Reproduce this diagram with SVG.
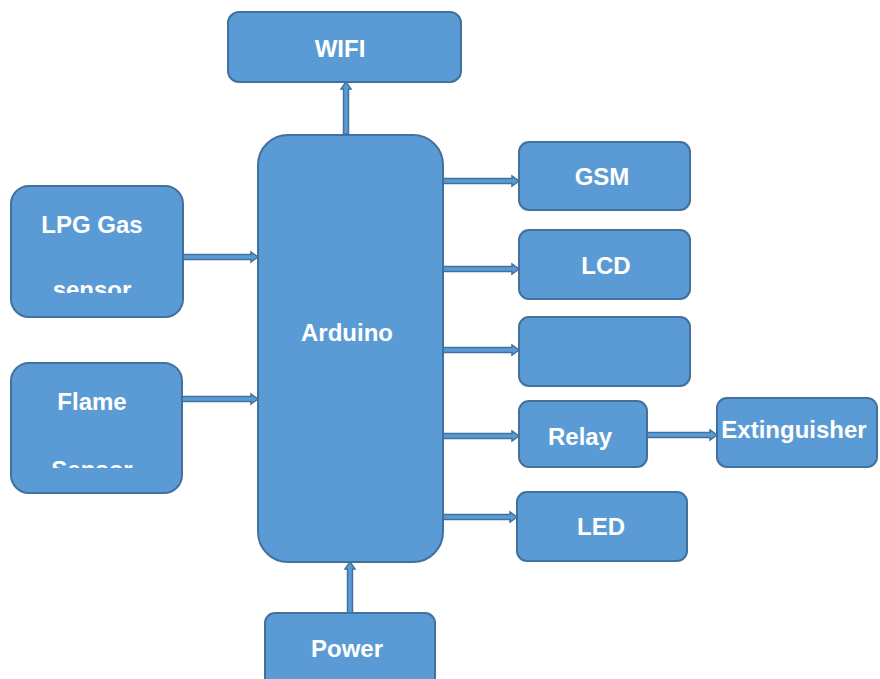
<svg xmlns="http://www.w3.org/2000/svg" width="880" height="679" viewBox="0 0 880 679">
<style>
.box{fill:#5B9BD5;stroke:#41719C;stroke-width:2}
.arr{fill:#5B9BD5;stroke:#41719C;stroke-width:1.5;stroke-linejoin:miter}
.t{font-family:"Liberation Sans",Arial,sans-serif;font-weight:bold;font-size:24px;fill:#FFFFFF;text-anchor:middle}
</style>
<defs>
<clipPath id="clipLpg"><rect x="0" y="0" width="880" height="293"/></clipPath>
<clipPath id="clipFlame"><rect x="0" y="0" width="880" height="468"/></clipPath>
</defs>
<rect width="880" height="679" fill="#FFFFFF"/>
<g id="connectors">
<polygon class="arr" points="183,254.5 251,254.5 251,252 258,257 251,262 251,259.5 183,259.5"/>
<polygon class="arr" points="182,396.5 251,396.5 251,394 258,399 251,404 251,401.5 182,401.5"/>
<polygon class="arr" points="443,178.5 512,178.5 512,176 519,181 512,186 512,183.5 443,183.5"/>
<polygon class="arr" points="443,266.5 512,266.5 512,264 519,269 512,274 512,271.5 443,271.5"/>
<polygon class="arr" points="443,347.5 512,347.5 512,345 519,350 512,355 512,352.5 443,352.5"/>
<polygon class="arr" points="443,433.5 512,433.5 512,431 519,436 512,441 512,438.5 443,438.5"/>
<polygon class="arr" points="647,432.5 710,432.5 710,430 717,435 710,440 710,437.5 647,437.5"/>
<polygon class="arr" points="443,514.5 510,514.5 510,512 517,517 510,522 510,519.5 443,519.5"/>
<polygon class="arr" points="343.5,134 343.5,89 341,89 346,82 351,89 348.5,89 348.5,134"/>
<polygon class="arr" points="347.5,613 347.5,569 345,569 350,562 355,569 352.5,569 352.5,613"/>
</g>
<g id="wifi"><rect class="box" x="228" y="12" width="233" height="70" rx="11"/><text class="t" x="340" y="57">WIFI</text></g>
<g id="arduino"><rect class="box" x="258" y="135" width="185" height="427" rx="30"/><text class="t" x="347" y="341">Arduino</text></g>
<g id="lpg"><rect class="box" x="11" y="186" width="172" height="131" rx="18"/><text class="t" x="92" y="233">LPG Gas</text><text class="t" x="92" y="298" clip-path="url(#clipLpg)">sensor</text></g>
<g id="flame"><rect class="box" x="11" y="363" width="171" height="130" rx="18"/><text class="t" x="92" y="410">Flame</text><text class="t" x="92" y="478" clip-path="url(#clipFlame)">Sensor</text></g>
<g id="gsm"><rect class="box" x="519" y="142" width="171" height="68" rx="10"/><text class="t" x="602" y="185">GSM</text></g>
<g id="lcd"><rect class="box" x="519" y="230" width="171" height="69" rx="10"/><text class="t" x="606" y="274">LCD</text></g>
<g id="empty"><rect class="box" x="519" y="317" width="171" height="69" rx="10"/></g>
<g id="relay"><rect class="box" x="519" y="401" width="128" height="66" rx="10"/><text class="t" x="580" y="445">Relay</text></g>
<g id="extinguisher"><rect class="box" x="717" y="398" width="160" height="69" rx="10"/><text class="t" x="794" y="438">Extinguisher</text></g>
<g id="led"><rect class="box" x="517" y="492" width="170" height="69" rx="10"/><text class="t" x="601" y="535">LED</text></g>
<g id="power"><rect class="box" x="265" y="613" width="170" height="80" rx="10"/><text class="t" x="347" y="657">Power</text></g>
</svg>
